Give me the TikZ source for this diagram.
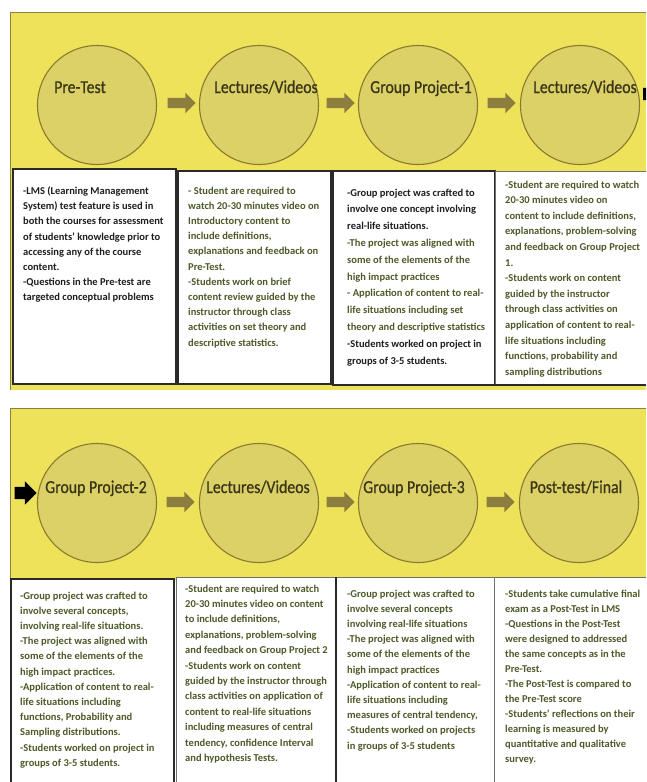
\documentclass[tikz,border=0pt]{standalone}
\usepackage{fontspec}
\setmainfont{Carlito}
\newfontfamily\lblfont[FakeBold=0.8]{Carlito}
\usepackage{graphicx}
\usetikzlibrary{shapes.arrows}
\definecolor{panelyellow}{HTML}{EEE25A}
\definecolor{panelline}{HTML}{8C8240}
\definecolor{circfill}{HTML}{DBD166}
\definecolor{circline}{HTML}{8A7A30}
\definecolor{arrowolive}{HTML}{8C7E3E}
\definecolor{lbltext}{HTML}{3A3518}
\definecolor{txtblack}{HTML}{1E1E1E}
\definecolor{txtolive}{HTML}{4D5A29}
\definecolor{boxdark}{HTML}{2A2A2A}
\definecolor{boxgray}{HTML}{707070}
\tikzset{
  stagecirc/.style={circle, draw=circline, line width=1.1pt, fill=circfill, minimum size=119pt, inner sep=0pt},
  stagelbl/.style={anchor=base, text=lbltext, font=\lblfont\fontsize{15.8}{18}\selectfont, inner sep=0pt},
  flowarrow/.style={single arrow, fill=arrowolive, draw=none, inner sep=5pt, single arrow head extend=5pt, minimum height=28pt, single arrow head indent=0pt},
  blackarrow/.style={single arrow, fill=black, draw=none, inner sep=6pt, single arrow head extend=5.5pt, minimum height=22pt, single arrow head indent=0pt},
  infobox/.style={draw=boxdark, line width=1.4pt, fill=white},
  infoboxlight/.style={draw=boxgray, line width=0.8pt, fill=white},
  infotext/.style={anchor=north west, inner sep=0pt, align=left, font=\fontsize{10.5}{15.2}\selectfont\bfseries},
}
\newcommand{\tall}[1]{\scalebox{1}[1.15]{#1}}
\begin{document}
\begin{tikzpicture}[x=1pt,y=-1pt]
\useasboundingbox (0,0) rectangle (646,782);
\clip (0,0) rectangle (646,782);
% panels
\fill[white] (0,0) rectangle (646,782);
\fill[panelyellow] (10,12) rectangle (646,390);
\draw[panelline, line width=1pt] (10,390) -- (10,12) -- (646,12);
\fill[panelyellow] (10,408) rectangle (646,580);
\draw[panelline, line width=1pt] (10,580) -- (10,408) -- (646,408);

% top row circles
\node[stagecirc] (c1) at (97,105) {};
\node[stagecirc] (c2) at (259,105) {};
\node[stagecirc] (c3) at (418,105) {};
\node[stagecirc] (c4) at (580,105) {};
\node[stagelbl] (l1) at (80,93) {\tall{Pre-Test}};
\node[stagelbl] (l2) at (266,93) {\tall{Lectures/Videos}};
\node[stagelbl] (l3) at (421,93) {\tall{Group Project-1}};
\node[stagelbl] (l4) at (585,93) {\tall{Lectures/Videos}};
\node[flowarrow] (a1) at (179,103) {};
\node[flowarrow] (a2) at (338,103) {};
\node[flowarrow] (a3) at (499,103) {};
\node[blackarrow] (ka) at (651,94) {};

% top row boxes
\draw[infobox] (13,169) rectangle (176,384);
\draw[infobox] (178,171) rectangle (331,384);
\draw[infobox, line width=1.8pt] (333,171) rectangle (495,385);
\draw[infoboxlight] (495,171) rectangle (660,385);
\draw[boxdark, line width=1.6pt] (495,385) -- (646,385);

\node[infotext, text=txtblack] (t1) at (23,186.5) {-LMS (Learning Management\\System) test feature is used in\\both the courses for assessment\\of students’ knowledge prior to\\accessing any of the course\\content.\\-Questions in the Pre-test are\\targeted conceptual problems};
\node[infotext, text=txtolive] (t2) at (188,186.5) {- Student are required to\\watch 20-30 minutes video on\\Introductory content to\\include definitions,\\explanations and feedback on\\Pre-Test.\\-Students work on brief\\content review guided by the\\instructor through class\\activities on set theory and\\descriptive statistics.};
\node[infotext, text=txtolive, font=\fontsize{10.5}{16.8}\selectfont\bfseries] (t3) at (347,188.5) {\textcolor{txtblack}{-Group project was crafted to}\\\textcolor{txtblack}{involve one concept involving}\\\textcolor{txtblack}{real-life situations.}\\-The project was aligned with\\some of the elements of the\\high impact practices\\- Application of content to real-\\life situations including set\\theory and descriptive statistics\\\textcolor{txtblack}{-Students worked on project in}\\\textcolor{txtblack}{groups of 3-5 students.}};
\node[infotext, text=txtolive, font=\fontsize{10.5}{15.6}\selectfont\bfseries] (t4) at (505,180.5) {-Student are required to watch\\20-30 minutes video on\\content to include definitions,\\explanations, problem-solving\\and feedback on Group Project\\1.\\-Students work on content\\guided by the instructor\\through class activities on\\application of content to real-\\life situations including\\functions, probability and\\sampling distributions};

% bottom row circles
\node[stagecirc] (d1) at (97,503) {};
\node[stagecirc] (d2) at (259,503) {};
\node[stagecirc] (d3) at (418,503) {};
\node[stagecirc] (d4) at (579,503) {};
\node[stagelbl] (m1) at (96,493) {\tall{Group Project-2}};
\node[stagelbl] (m2) at (258,493) {\tall{Lectures/Videos}};
\node[stagelbl] (m3) at (414,493) {\tall{Group Project-3}};
\node[stagelbl] (m4) at (576,493) {\tall{Post-test/Final}};
\node[flowarrow] (b1) at (178,502) {};
\node[flowarrow] (b2) at (338,502) {};
\node[flowarrow] (b3) at (498,502) {};
\node[blackarrow] (kb) at (22.5,493) {};

% bottom row boxes
\draw[infobox] (11,579) rectangle (174,800);
\draw[infoboxlight] (176,577) rectangle (336,800);
\draw[infoboxlight] (336,577) rectangle (494,800);
\draw[boxdark, line width=1.4pt] (336,577) -- (336,800);
\draw[infoboxlight] (494,577) rectangle (660,800);

\node[infotext, text=txtolive] (u1) at (20,591.5) {-Group project was crafted to\\involve several concepts,\\involving real-life situations.\\-The project was aligned with\\some of the elements of the\\high impact practices.\\-Application of content to real-\\life situations including\\functions, Probability and\\Sampling distributions.\\-Students worked on project in\\groups of 3-5 students.};
\node[infotext, text=txtolive, font=\fontsize{10.5}{15.4}\selectfont\bfseries] (u2) at (185,584.5) {-Student are required to watch\\20-30 minutes video on content\\to include definitions,\\explanations, problem-solving\\and feedback on Group Project 2\\-Students work on content\\guided by the instructor through\\class activities on application of\\content to real-life situations\\including measures of central\\tendency, confidence Interval\\and hypothesis Tests.};
\node[infotext, text=txtolive] (u3) at (347,589.5) {-Group project was crafted to\\involve several concepts\\involving real-life situations\\-The project was aligned with\\some of the elements of the\\high impact practices\\-Application of content to real-\\life situations including\\measures of central tendency,\\-Students worked on projects\\in groups of 3-5 students};
\node[infotext, text=txtolive, font=\fontsize{10.5}{15}\selectfont\bfseries] (u4) at (505,589.5) {-Students take cumulative final\\exam as a Post-Test in LMS\\-Questions in the Post-Test\\were designed to addressed\\the same concepts as in the\\Pre-Test.\\-The Post-Test is compared to\\the Pre-Test score\\-Students’ reflections on their\\learning is measured by\\quantitative and qualitative\\survey.};
\end{tikzpicture}
\end{document}
